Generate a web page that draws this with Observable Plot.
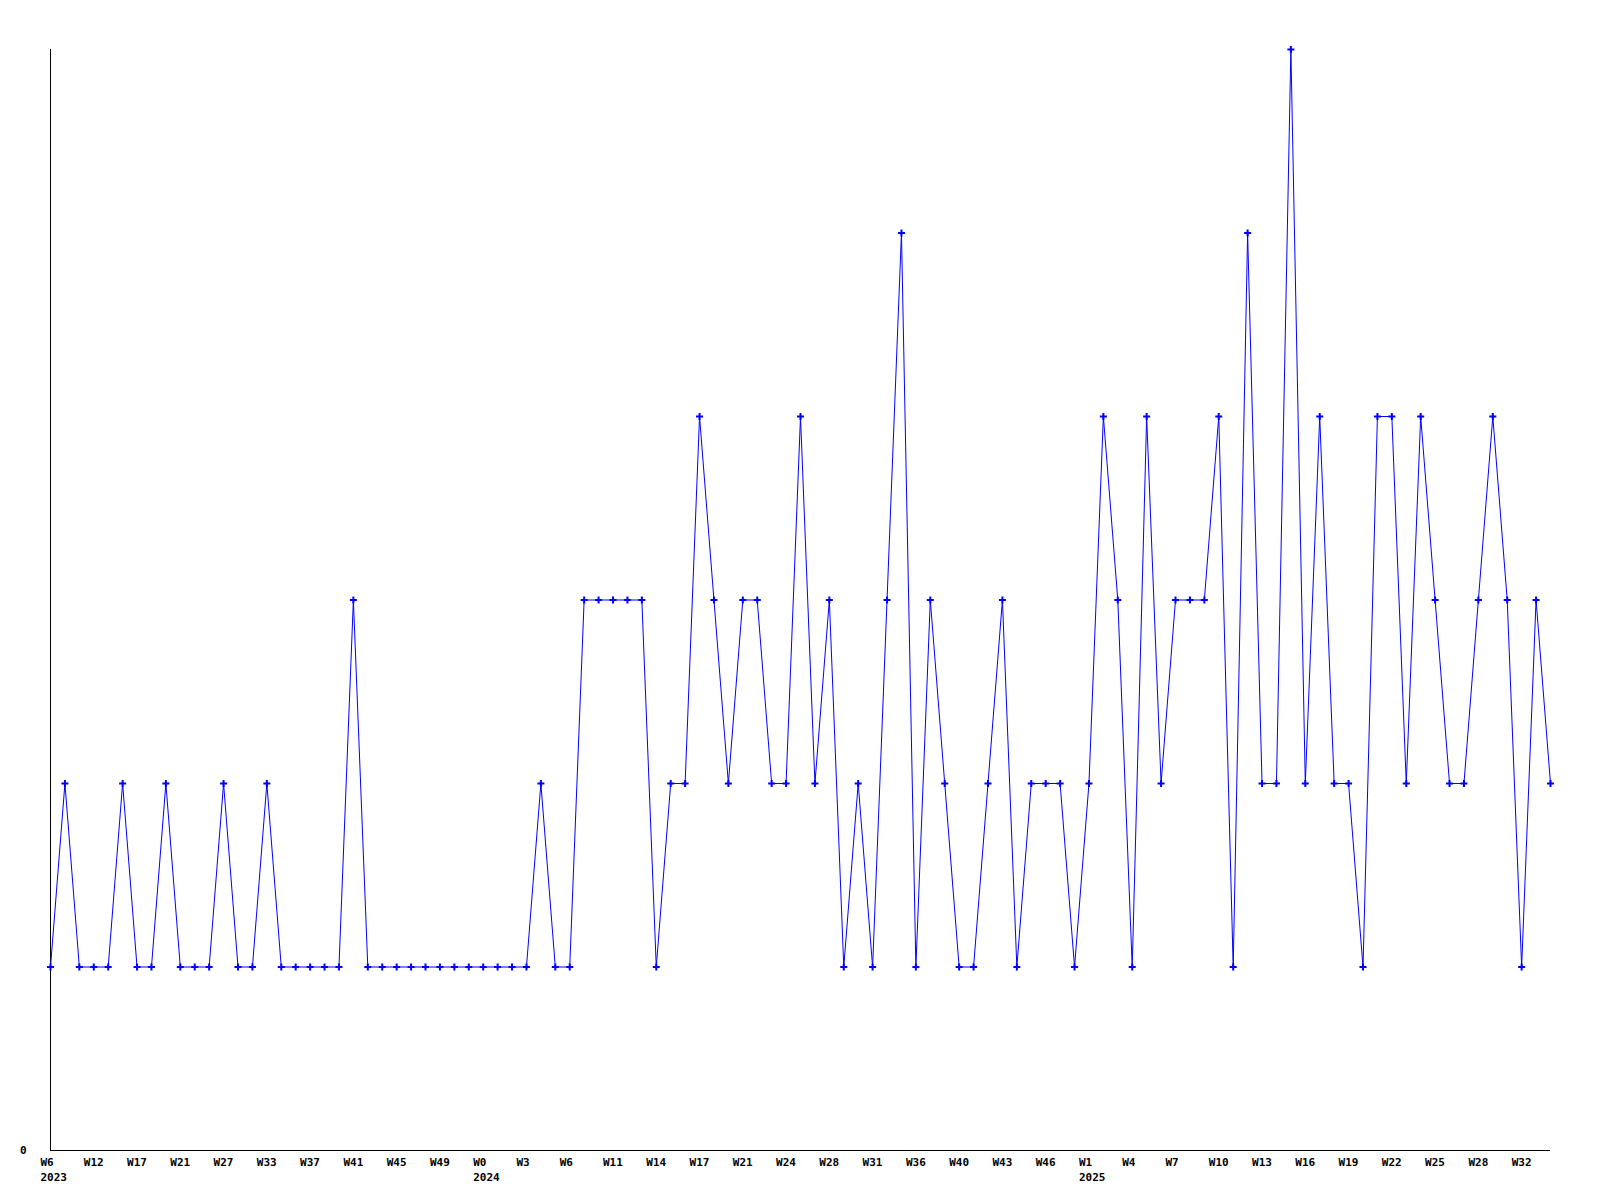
<!DOCTYPE html>
<html>
<head>
<meta charset="utf-8">
<script src="https://cdn.jsdelivr.net/npm/d3@7"></script>
<script src="https://cdn.jsdelivr.net/npm/@observablehq/plot@0.6"></script>
<style>
  html, body { margin: 0; padding: 0; background: #ffffff; }
  #chart svg { display: block; }
</style>
</head>
<body>
<div id="chart"></div>
<script>
// Week labels for each data point (weeks without data are skipped)
const weekLabels = [
  "W6","W8","W10","W12","W14","W15","W17","W18","W20","W21",
  "W23","W25","W27","W29","W31","W33","W34","W36","W37","W38",
  "W40","W41","W42","W43","W45","W46","W48","W49","W50","W52",
  "W0","W1","W2","W3","W4","W5","W6","W7","W9","W11",
  "W12","W13","W14","W15","W16","W17","W18","W20","W21","W22",
  "W23","W24","W25","W27","W28","W29","W30","W31","W33","W35",
  "W36","W38","W39","W40","W41","W42","W43","W44","W45","W46",
  "W48","W50","W1","W2","W3","W4","W5","W6","W7","W8",
  "W9","W10","W11","W12","W13","W14","W15","W16","W17","W18",
  "W19","W20","W21","W22","W23","W24","W25","W26","W27","W28",
  "W29","W31","W32","W33","W34"
];
const years = [
  2023,2023,2023,2023,2023,2023,2023,2023,2023,2023,
  2023,2023,2023,2023,2023,2023,2023,2023,2023,2023,
  2023,2023,2023,2023,2023,2023,2023,2023,2023,2023,
  2024,2024,2024,2024,2024,2024,2024,2024,2024,2024,
  2024,2024,2024,2024,2024,2024,2024,2024,2024,2024,
  2024,2024,2024,2024,2024,2024,2024,2024,2024,2024,
  2024,2024,2024,2024,2024,2024,2024,2024,2024,2024,
  2024,2024,2025,2025,2025,2025,2025,2025,2025,2025,
  2025,2025,2025,2025,2025,2025,2025,2025,2025,2025,
  2025,2025,2025,2025,2025,2025,2025,2025,2025,2025,
  2025,2025,2025,2025,2025
];
const values = [
  1,2,1,1,1,2,1,1,2,1,
  1,1,2,1,1,2,1,1,1,1,
  1,3,1,1,1,1,1,1,1,1,
  1,1,1,1,2,1,1,3,3,3,
  3,3,1,2,2,4,3,2,3,3,
  2,2,4,2,3,1,2,1,3,5,
  1,3,2,1,1,2,3,1,2,2,
  2,1,2,4,3,1,4,2,3,3,
  3,4,1,5,2,2,6,2,4,2,
  2,1,4,4,2,4,3,2,2,3,
  4,3,1,3,2
];
// Labelled positions (every third point) and first point of each year
const tickIndex = d3.range(0, values.length, 3);
const yearStartIndex = [0, 30, 72];
const yTicks = [0];

const data = values.map((v, i) => ({i, v, week: weekLabels[i], year: years[i]}));

const font = "'DejaVu Sans Mono', monospace";

const chart = Plot.plot({
  width: 1600,
  height: 1200,
  marginLeft: 50,
  marginRight: 50,
  marginTop: 49,
  marginBottom: 50,
  style: {fontFamily: font, fontSize: "11px", fontWeight: "bold", background: "#ffffff", color: "#000"},
  x: {type: "linear", domain: [0, values.length - 1], axis: null},
  y: {type: "linear", domain: [0, 6], axis: null},
  marks: [
    Plot.ruleX([0], {y1: 0, y2: 6, stroke: "#000", strokeWidth: 1}),
    Plot.ruleY([0], {stroke: "#000", strokeWidth: 1}),
    Plot.line(data, {x: "i", y: "v", stroke: "#0000ff", strokeWidth: 1}),
    Plot.dot(data, {x: "i", y: "v", symbol: "plus", r: 2.4, stroke: "#0000ff", strokeWidth: 2}),
    Plot.text(tickIndex, {
      x: d => d, y: 0, text: d => weekLabels[d],
      textAnchor: "start", lineAnchor: "top", dx: -10, dy: 8,
      fill: "#000", fontFamily: font, fontSize: 11, fontWeight: "bold"
    }),
    Plot.text(yearStartIndex, {
      x: d => d, y: 0, text: d => String(years[d]),
      textAnchor: "start", lineAnchor: "top", dx: -10, dy: 23,
      fill: "#000", fontFamily: font, fontSize: 11, fontWeight: "bold"
    }),
    Plot.text(yTicks, {
      x: 0, y: d => d, text: d => String(d),
      textAnchor: "end", lineAnchor: "middle", dx: -24, dy: 0,
      fill: "#000", fontFamily: font, fontSize: 11, fontWeight: "bold"
    })
  ]
});
document.getElementById("chart").appendChild(chart);
</script>
</body>
</html>
